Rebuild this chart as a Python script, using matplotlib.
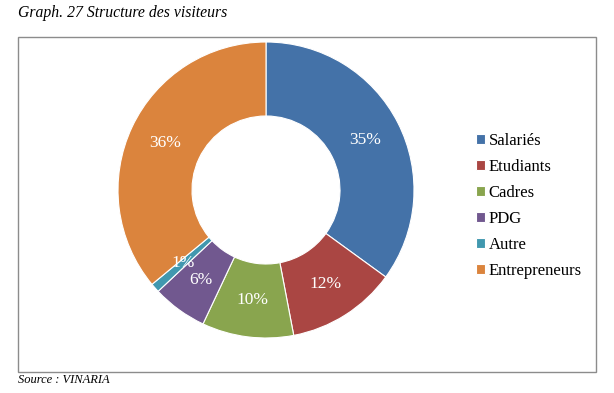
import matplotlib
matplotlib.use("Agg")
import matplotlib.pyplot as plt
from matplotlib.patches import Rectangle

categories = ["Salariés", "Etudiants", "Cadres", "PDG", "Autre", "Entrepreneurs"]
values = [35, 12, 10, 6, 1, 36]
colors = ["#4472A8", "#AA4643", "#89A54E", "#71588F", "#4198AF", "#DB843D"]
title = "Graph. 27 Structure des visiteurs"
source = "Source : VINARIA"

W, H = 614, 393
fig = plt.figure(figsize=(W / 100, H / 100), dpi=100)
serif = ["Liberation Serif", "DejaVu Serif"]

# Frame
fig.patches.append(Rectangle((18 / W, 1 - 372 / H), (596 - 18) / W, (372 - 37) / H,
                             transform=fig.transFigure, fill=False,
                             edgecolor="#8c8c8c", linewidth=1.0))

cx, cy, r = 266, 190, 148
ax = fig.add_axes([(cx - r) / W, (H - cy - r) / H, 2 * r / W, 2 * r / H])
wedges, texts, autotexts = ax.pie(values, colors=colors, startangle=90, counterclock=False,
                                  radius=1.0, wedgeprops=dict(width=0.5, edgecolor="white", linewidth=0.8),
                                  autopct=lambda p: f"{p:.0f}%", pctdistance=0.75,
                                  textprops=dict(color="white", fontsize=12.5, family=serif))
ax.set_xlim(-1, 1)
ax.set_ylim(-1, 1)
ax.set_aspect("equal")
ax.axis("off")

fig.legend(wedges, categories, loc="center left", bbox_to_anchor=(461 / W, 1 - 206 / H),
           frameon=False, handlelength=0.55, handleheight=0.55, handletextpad=0.2,
           labelspacing=0.6, prop=dict(family=serif, size=12))

fig.text(18 / W, 1 - 13 / H, title, ha="left", va="center", fontsize=11.3,
         style="italic", family=serif)
fig.text(18 / W, 1 - 380 / H, source, ha="left", va="center", fontsize=9,
         style="italic", family=serif)

fig.savefig("out.png", dpi=100)
